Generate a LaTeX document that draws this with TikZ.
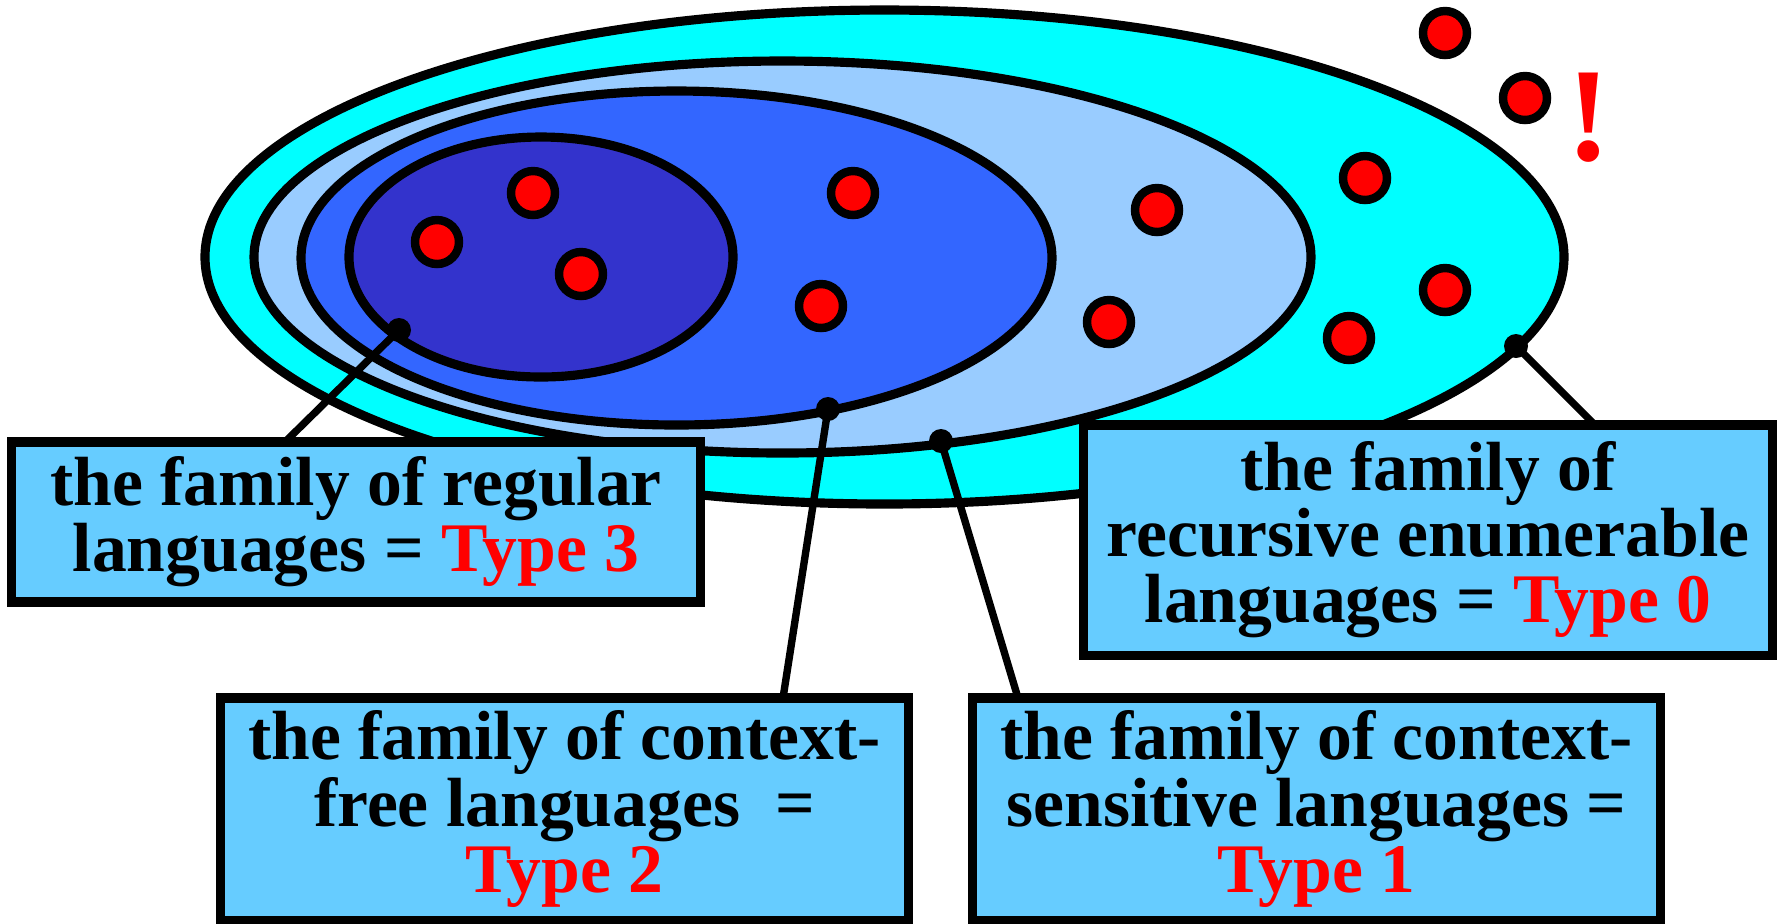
\documentclass[tikz,border=0pt]{standalone}
\usepackage{fontspec}
\setmainfont{Liberation Serif}
\definecolor{outerc}{HTML}{00FFFF}
\definecolor{lbluec}{HTML}{99CCFF}
\definecolor{bluec}{HTML}{3366FF}
\definecolor{darkc}{HTML}{3333CC}
\definecolor{boxc}{HTML}{66CCFF}
\definecolor{redc}{HTML}{FF0000}
\tikzset{
  ell/.style={draw=black, line width=2.6pt},
  reddot/.style={draw=black, fill=redc, line width=2.4pt},
  pin/.style={fill=black},
  conn/.style={draw=black, line width=2.1pt},
  box/.style={draw=black, fill=boxc, line width=2.6pt, inner sep=0pt, align=center,
    font=\bfseries\fontsize{19.8}{18.8}\selectfont},
  typ/.style={text=redc}
}
\begin{document}
\begin{tikzpicture}[x=0.01cm,y=-0.01cm]
\useasboundingbox (0,0) rectangle (1790,923);
% nested ellipses
\draw[ell, fill=outerc] (884.5,257) ellipse [x radius=679.5, y radius=247];
\draw[ell, fill=lbluec] (782.5,257) ellipse [x radius=528.5, y radius=196];
\draw[ell, fill=bluec] (676.5,258) ellipse [x radius=375.5, y radius=167];
\draw[ell, fill=darkc] (541,257) ellipse [x radius=192, y radius=120];
% red dots
\foreach \p in {(533,193),(437,242),(581,274),(853,193),(821,306),
  (1157,210),(1109,322),(1365,178),(1445,290),(1349,338),(1445,33),(1525,98)}
  \draw[reddot] \p circle [radius=22];
\node[text=redc, font=\bfseries\fontsize{38}{38}\selectfont] (excl) at (1589,118) {!};
% connection points
\coordinate (p3) at (399,330);
\coordinate (p2) at (828,409);
\coordinate (p1) at (941,441);
\coordinate (p0) at (1516,346);
% boxes
\node[box, minimum width=6.88cm, minimum height=1.60cm] (b3) at (356,522)
  {the family of regular\\languages = \textcolor{redc}{Type 3}};
\node[box, minimum width=6.88cm, minimum height=2.30cm] (b0) at (1428,540)
  {the family of\\recursive enumerable\\languages = \textcolor{redc}{Type 0}};
\node[box, minimum width=6.87cm, minimum height=2.22cm] (b2) at (564.5,809)
  {the family of context-\\free languages\ \ =\\\textcolor{redc}{Type 2}};
\node[box, minimum width=6.87cm, minimum height=2.22cm] (b1) at (1316.5,809)
  {the family of context-\\sensitive languages =\\\textcolor{redc}{Type 1}};
% connector ends on boxes
\coordinate (e3) at (285,442);
\coordinate (e2) at (783,698);
\coordinate (e1) at (1018,698);
\coordinate (e0) at (1595,425);
\draw[conn] (p3) -- (e3);
\draw[conn] (p2) -- (e2);
\draw[conn] (p1) -- (e1);
\draw[conn] (p0) -- (e0);
\foreach \q in {p3,p2,p1,p0} \fill[pin] (\q) circle [radius=12];
\end{tikzpicture}
\end{document}
